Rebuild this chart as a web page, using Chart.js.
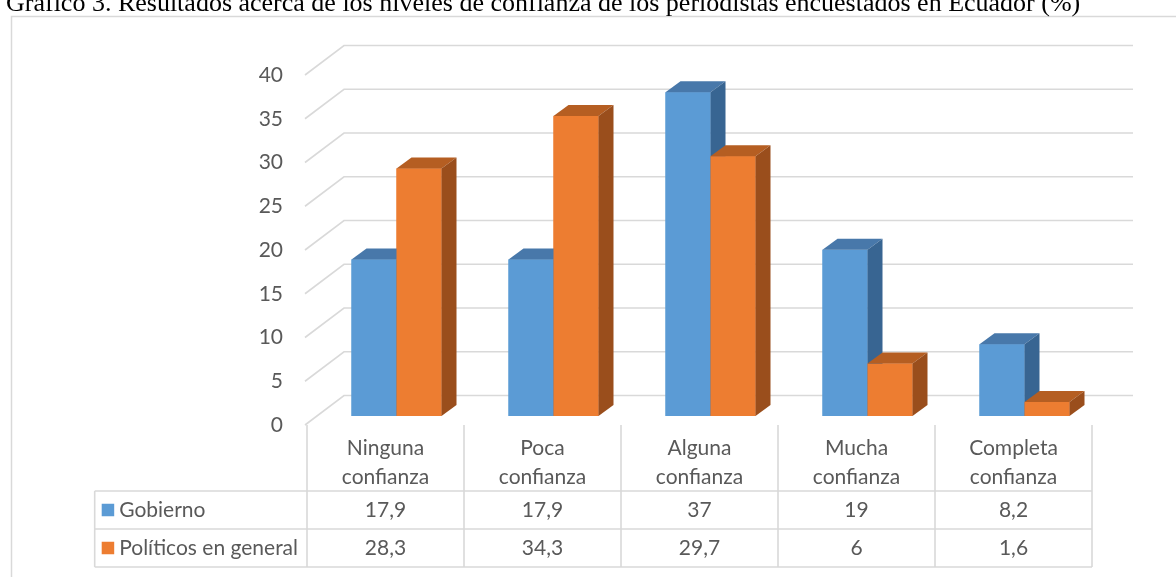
<!DOCTYPE html>
<html lang="es">
<head>
<meta charset="utf-8">
<script src="https://cdn.jsdelivr.net/npm/chart.js@4"></script>
<style>
  html, body { margin: 0; padding: 0; background: #fff; overflow: hidden; }
  #wrap { position: relative; width: 1176px; height: 577px; }
  #titulo {
    position: absolute; left: 6px; top: -12px; line-height: 28px; white-space: nowrap;
    font: 26px "Liberation Serif", "Times New Roman", serif; color: #000;
  }
  canvas { position: absolute; left: 0; top: 0; }
</style>
</head>
<body>
<div id="wrap">
  <canvas id="grafico" width="1176" height="577"></canvas>
  <div id="titulo">Gráfico 3. Resultados acerca de los niveles de confianza de los periodistas encuestados en Ecuador (%)</div>
</div>
<script>
// datos
const categorias = [
  ['Ninguna', 'confianza'],
  ['Poca', 'confianza'],
  ['Alguna', 'confianza'],
  ['Mucha', 'confianza'],
  ['Completa', 'confianza']
];
const series = ['Gobierno', 'Políticos en general'];
const gobierno = [17.9, 17.9, 37, 19, 8.2];
const politicos = [28.3, 34.3, 29.7, 6, 1.6];
const ejeY = { min: 0, max: 40, paso: 5 };

// colores: frente, tapa, lateral
const caras = [
  { frente: '#5B9BD5', tapa: '#4878AA', lado: '#386592' },
  { frente: '#ED7D31', tapa: '#B55E22', lado: '#9A4E1C' }
];

const FUENTE = '"Lato", "Open Sans", sans-serif';
const TAM = 21;
const GRIS = '#595959';
const LINEA = '#D9D9D9';
const prof = { dx: 15, dy: 11 };                    // profundidad de cada barra
const pared = { dx: 39, frente: 9, fondo: -20.5 };  // perspectiva de la cuadrícula
const desfase = 11;                                 // barras desplazadas hacia el fondo

const fmt = v => String(v).replace('.', ',');

function caja(ctx, bar, c) {
  const { x, y, width, base } = bar.getProps(['x', 'y', 'width', 'base'], true);
  const x0 = x - width / 2, x1 = x + width / 2;
  ctx.fillStyle = c.frente;
  ctx.fillRect(x0, y, width, base - y);
  // tapa
  ctx.fillStyle = c.tapa;
  ctx.beginPath();
  ctx.moveTo(x0, y);
  ctx.lineTo(x0 + prof.dx, y - prof.dy);
  ctx.lineTo(x1 + prof.dx, y - prof.dy);
  ctx.lineTo(x1, y);
  ctx.closePath();
  ctx.fill();
  // lateral
  ctx.fillStyle = c.lado;
  ctx.beginPath();
  ctx.moveTo(x1, y);
  ctx.lineTo(x1 + prof.dx, y - prof.dy);
  ctx.lineTo(x1 + prof.dx, base - prof.dy);
  ctx.lineTo(x1, base);
  ctx.closePath();
  ctx.fill();
}

const pseudo3d = {
  id: 'pseudo3d',
  beforeDraw(chart) {
    const ctx = chart.ctx;
    ctx.save();
    ctx.strokeStyle = LINEA;
    ctx.lineWidth = 1.5;
    ctx.beginPath();
    ctx.moveTo(11.5, 600);
    ctx.lineTo(11.5, 16.5);
    ctx.lineTo(1200, 16.5);
    ctx.stroke();
    ctx.restore();
  },
  beforeDatasetsDraw(chart) {
    const { ctx, chartArea, scales: { y } } = chart;
    const xf = chartArea.left - 13;
    const xr = chartArea.right + 30;
    ctx.save();
    ctx.strokeStyle = LINEA;
    ctx.lineWidth = 1.6;
    for (let v = ejeY.min; v <= ejeY.max; v += ejeY.paso) {
      const p = y.getPixelForValue(v);
      const yb = p + pared.fondo;
      ctx.beginPath();
      ctx.moveTo(xf, p + pared.frente);
      ctx.lineTo(xf + pared.dx, yb);
      ctx.lineTo(xr, yb);
      ctx.stroke();
    }
    ctx.restore();
  },
  afterDatasetsDraw(chart) {
    // cada categoría: primero Gobierno, luego Políticos delante de su lateral
    const ctx = chart.ctx;
    const metas = [chart.getDatasetMeta(0), chart.getDatasetMeta(1)];
    ctx.save();
    categorias.forEach((_, i) => {
      metas.forEach((m, k) => caja(ctx, m.data[i], caras[k]));
    });
    ctx.restore();
  },
  afterDraw(chart) {
    // tabla de datos bajo el gráfico
    const { ctx, scales: { x } } = chart;
    const paso = x.getPixelForValue(1) - x.getPixelForValue(0);
    const centros = categorias.map((_, i) => x.getPixelForValue(i) - desfase);
    const izq = centros[0] - paso / 2;
    const der = centros[centros.length - 1] + paso / 2;
    const yTop = 425, yF1 = 491, yF2 = 529, yF3 = 567;

    ctx.save();
    ctx.font = TAM + 'px ' + FUENTE;
    const anchoTxt = Math.max(...series.map(s => ctx.measureText(s).width));
    const cuadro = 12.5;
    const tablaIzq = izq - 9 - anchoTxt - 5 - cuadro - 7;

    ctx.strokeStyle = LINEA;
    ctx.lineWidth = 1.6;
    ctx.beginPath();
    [yF1, yF2, yF3].forEach(yy => { ctx.moveTo(tablaIzq, yy); ctx.lineTo(der, yy); });
    ctx.moveTo(tablaIzq, yF1); ctx.lineTo(tablaIzq, yF3);
    for (let i = 0; i <= centros.length; i++) {
      const xx = izq + i * paso;
      ctx.moveTo(xx, yTop); ctx.lineTo(xx, yF3);
    }
    ctx.stroke();

    ctx.fillStyle = GRIS;
    ctx.textAlign = 'center';
    ctx.textBaseline = 'middle';
    categorias.forEach((lineas, i) => {
      ctx.fillText(lineas[0], centros[i], 448);
      ctx.fillText(lineas[1], centros[i], 477);
    });
    [gobierno, politicos].forEach((vals, k) => {
      const yy = k === 0 ? (yF1 + yF2) / 2 : (yF2 + yF3) / 2;
      vals.forEach((v, i) => ctx.fillText(fmt(v), centros[i], yy));
      const xl = tablaIzq + 7;
      ctx.fillStyle = caras[k].frente;
      ctx.fillRect(xl, yy - cuadro / 2, cuadro, cuadro);
      ctx.fillStyle = GRIS;
      ctx.textAlign = 'left';
      ctx.fillText(series[k], xl + cuadro + 5, yy);
      ctx.textAlign = 'center';
    });
    ctx.restore();
  }
};

const ctx = document.getElementById('grafico').getContext('2d');

new Chart(ctx, {
  type: 'bar',
  data: {
    labels: categorias,
    datasets: [
      { label: series[0], data: gobierno, backgroundColor: caras[0].frente },
      { label: series[1], data: politicos, backgroundColor: caras[1].frente }
    ]
  },
  options: {
    responsive: false,
    animation: false,
    devicePixelRatio: 1,
    layout: { padding: { top: 66, bottom: 161, left: 0, right: 73 } },
    datasets: {
      bar: { categoryPercentage: 90 / 157, barPercentage: 1, borderWidth: 0 }
    },
    plugins: {
      legend: { display: false },
      tooltip: { enabled: false }
    },
    scales: {
      x: { display: false },
      y: {
        min: ejeY.min,
        max: ejeY.max,
        afterFit(scale) { scale.width = 318; },
        border: { display: false },
        grid: { display: false, drawTicks: false },
        ticks: {
          stepSize: ejeY.paso,
          padding: 35,
          labelOffset: 9,
          color: GRIS,
          font: { family: FUENTE, size: TAM }
        }
      }
    }
  },
  plugins: [pseudo3d]
});
</script>
</body>
</html>
